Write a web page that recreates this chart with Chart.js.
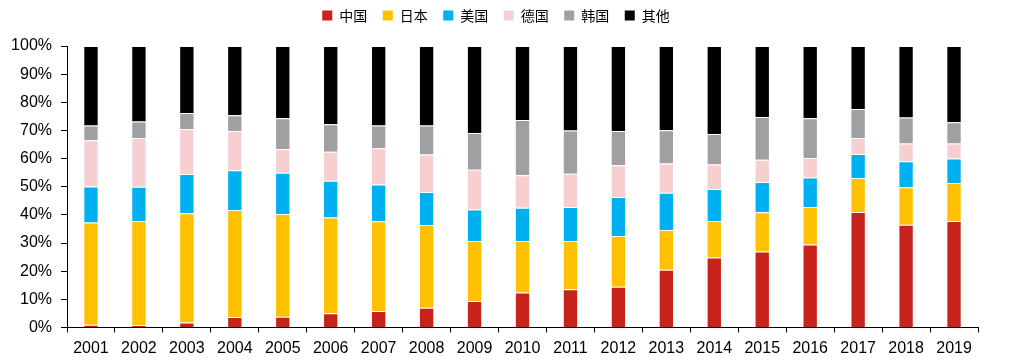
<!DOCTYPE html>
<html>
<head>
<meta charset="utf-8">
<script src="https://cdn.jsdelivr.net/npm/chart.js@4/dist/chart.umd.min.js"></script>
<style>
  html, body { margin: 0; padding: 0; background: #fff; }
  #wrap { width: 1029px; height: 362px; position: relative; }
</style>
</head>
<body>
<div id="wrap"><canvas id="c" width="1029" height="362"></canvas></div>
<script>
const categories = ['2001','2002','2003','2004','2005','2006','2007','2008','2009','2010','2011','2012','2013','2014','2015','2016','2017','2018','2019'];
const seriesNames = ['中国','日本','美国','德国','韩国','其他'];
const china   = [1.0, 0.8, 1.8, 3.7, 3.8, 5.1, 5.9, 7.0, 9.4, 12.4, 13.6, 14.5, 20.5, 24.9, 27.0, 29.5, 41.0, 36.5, 37.8];
const japan   = [36.3, 37.0, 38.8, 38.0, 36.5, 34.0, 31.8, 29.4, 21.3, 18.3, 17.1, 18.0, 14.1, 12.9, 13.9, 13.3, 12.1, 13.3, 13.5];
const usa     = [12.8, 12.2, 13.9, 14.2, 14.7, 13.0, 13.1, 11.7, 11.2, 11.8, 12.1, 13.9, 13.3, 11.4, 10.8, 10.5, 8.5, 9.3, 8.7];
const germany = [16.4, 17.3, 16.0, 13.9, 8.4, 10.3, 12.9, 13.4, 14.1, 11.6, 11.8, 11.2, 10.4, 8.7, 7.9, 6.9, 5.7, 6.3, 5.4];
const korea   = [5.3, 5.9, 5.7, 5.6, 10.9, 9.8, 8.1, 10.3, 13.1, 19.6, 15.4, 12.2, 11.8, 10.8, 15.2, 14.1, 10.3, 9.2, 7.5];
const others  = [28.2, 26.8, 23.8, 24.6, 25.7, 27.8, 28.2, 28.2, 30.9, 26.3, 30.0, 30.2, 29.9, 31.3, 25.2, 25.7, 22.4, 25.4, 27.1];
const yTicks = [0,10,20,30,40,50,60,70,80,90,100];

const seriesData = [china, japan, usa, germany, korea, others];
const colors = ['#C9211E', '#FFC000', '#00B0F0', '#F7CFD1', '#A0A0A0', '#000000'];

const tickFont = { family: '"Liberation Sans", Arial, sans-serif', size: 16 };

const layoutPlugin = {
  id: 'legendLayout',
  afterInit(chart) {
    if (chart.legend) {
      const origFit = chart.legend.fit;
      chart.legend.fit = function () {
        origFit.call(this);
        this.height = 53;
      };
    }
  },
  afterLayout(chart) {
    if (chart.legend) {
      chart.legend.left += 7;
      chart.legend.right += 7;
    }
  }
};

new Chart(document.getElementById('c'), {
  type: 'bar',
  data: {
    labels: categories,
    datasets: seriesData.map((d, i) => ({
      label: seriesNames[i],
      data: d,
      backgroundColor: colors[i],
      borderWidth: 1,
      borderColor: 'rgba(255,255,255,0.28)',
      categoryPercentage: 1.0,
      barPercentage: 0.32
    }))
  },
  options: {
    responsive: false,
    animation: false,
    devicePixelRatio: 1,
    layout: { padding: { left: 0, right: 51, top: -7, bottom: 0 } },
    plugins: {
      legend: {
        position: 'top',
        labels: {
          boxWidth: 10,
          boxHeight: 10,
          padding: 15.5,
          color: '#000',
          font: { family: '"Noto Sans CJK SC", sans-serif', size: 14 },
          generateLabels(chart) {
            return chart.data.datasets.map((ds, i) => ({
              text: ds.label,
              fillStyle: colors[i],
              strokeStyle: colors[i],
              lineWidth: 0,
              hidden: false,
              datasetIndex: i,
              fontColor: '#000'
            }));
          }
        }
      },
      tooltip: { enabled: false }
    },
    scales: {
      x: {
        stacked: true,
        offset: true,
        grid: { display: true, drawOnChartArea: false, drawTicks: true, tickLength: 5, color: '#000', offset: true },
        border: { display: true, color: '#000', width: 1 },
        ticks: { color: '#000', font: tickFont, padding: 6, maxRotation: 0, autoSkip: false },
        afterFit(scale) { scale.height = 34.5; }
      },
      y: {
        stacked: true,
        min: 0,
        max: 100,
        afterBuildTicks(scale) { scale.ticks = yTicks.map(v => ({ value: v })); },
        grid: { display: true, drawOnChartArea: false, drawTicks: true, tickLength: 6, color: '#000' },
        border: { display: true, color: '#000', width: 1 },
        ticks: { color: '#000', font: tickFont, padding: 9, callback: v => v + '%' },
        afterFit(scale) { scale.width = 67; }
      }
    }
  },
  plugins: [layoutPlugin]
});
</script>
</body>
</html>
